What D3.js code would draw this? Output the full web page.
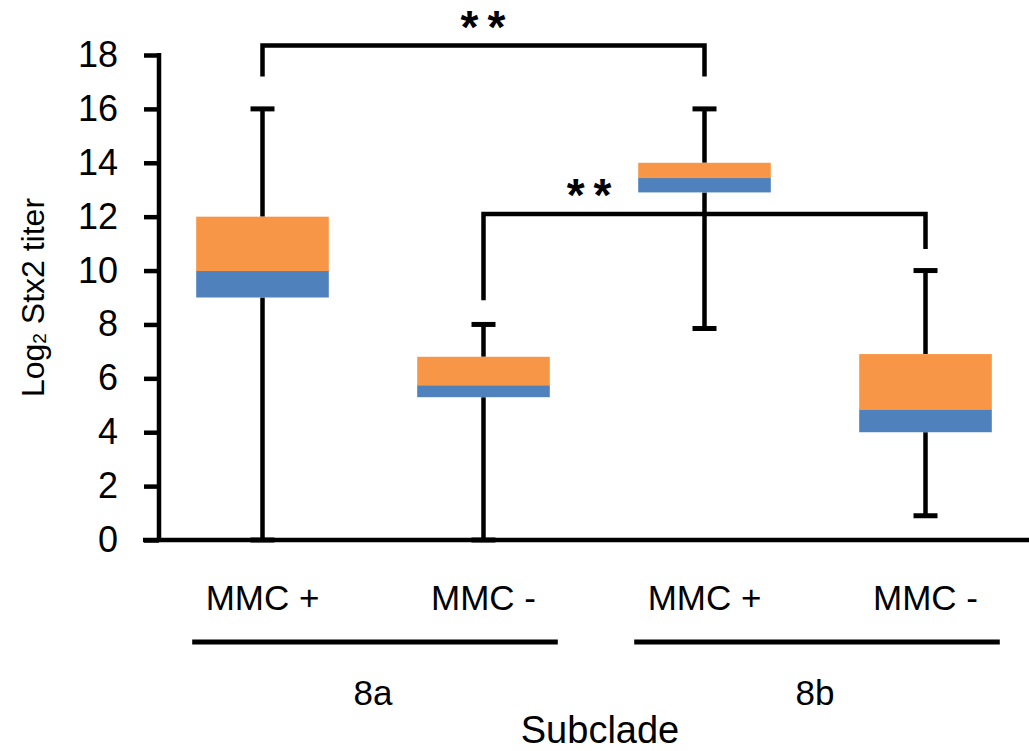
<!DOCTYPE html>
<html>
<head>
<meta charset="utf-8">
<script src="https://cdn.jsdelivr.net/npm/d3@7"></script>
<style>
  body { margin: 0; background: #fff; }
  svg text { font-family: "Liberation Sans", Arial, sans-serif; fill: #000; }
</style>
</head>
<body>
<svg id="chart" width="1029" height="751"></svg>
<script>
const categories = ['MMC +', 'MMC -', 'MMC +', 'MMC -'];
const groups = ['8a', '8a', '8b', '8b'];
const subclades = ['8a', '8b'];
const whiskerLow = [0, 0, 7.85, 0.9];
const boxLow = [9, 5.3, 12.9, 4.0];
const medians = [10, 5.75, 13.45, 4.85];
const boxHigh = [12, 6.8, 14, 6.9];
const whiskerHigh = [16, 8, 16, 10];
const yTicks = [0, 2, 4, 6, 8, 10, 12, 14, 16, 18];

// significance brackets
const bracketFrom = [0, 1];
const bracketTo = [2, 3];
const bracketTop = [18.35, 12.1];
const bracketFromEnd = [17.2, 8.9];
const bracketToEnd = [17.2, 10.8];
const bracketLabels = ['**', '**'];
const bracketLabelAt = [0.5, 0.24];

const blue = '#4F81BD';
const orange = '#F79646';
const axisX = 159;
const capW = 24;

let svg = d3.select('#chart');

let x = d3.scaleBand()
  .domain(d3.range(categories.length))
  .range([152, 1036])
  .paddingInner(0.4)
  .paddingOuter(0.2);

let y = d3.scaleLinear().domain([0, 18]).range([540, 55]);

let cx = i => x(i) + x.bandwidth() / 2;

// y axis
let yAxis = svg.append('g')
  .attr('transform', `translate(${axisX},0)`)
  .call(d3.axisLeft(y).tickValues(yTicks).tickSize(15).tickPadding(26).tickSizeOuter(0));
yAxis.select('.domain').attr('stroke', '#000').attr('stroke-width', 4.5);
yAxis.selectAll('.tick line').attr('stroke', '#000').attr('stroke-width', 4.5);
yAxis.selectAll('.tick text').attr('font-size', 36).attr('font-family', '"Liberation Sans", Arial, sans-serif');
yAxis.select('.domain').attr('d', `M0,${y(0)}V${y(18) - 2}`);

// x axis line
svg.append('line')
  .attr('x1', axisX - 16).attr('x2', 1029)
  .attr('y1', y(0)).attr('y2', y(0))
  .attr('stroke', '#000').attr('stroke-width', 4.5);

// whiskers, drawn outside the box
let idx = d3.range(categories.length);
[[whiskerLow, boxLow], [boxHigh, whiskerHigh]].forEach(([from, to]) => {
  svg.selectAll(null)
    .data(idx)
    .enter()
    .append('line')
      .attr('x1', cx).attr('x2', cx)
      .attr('y1', i => y(from[i]))
      .attr('y2', i => y(to[i]))
      .attr('stroke', '#000').attr('stroke-width', 4.5);
});

[whiskerLow, whiskerHigh].forEach(vals => {
  svg.selectAll(null)
    .data(idx)
    .enter()
    .append('line')
      .attr('x1', i => cx(i) - capW / 2)
      .attr('x2', i => cx(i) + capW / 2)
      .attr('y1', i => y(vals[i]))
      .attr('y2', i => y(vals[i]))
      .attr('stroke', '#000').attr('stroke-width', 5);
});

// boxes: lower part blue, upper part orange
svg.selectAll('.box-low')
  .data(idx)
  .enter()
  .append('rect')
    .attr('x', i => x(i))
    .attr('width', x.bandwidth())
    .attr('y', i => y(medians[i]))
    .attr('height', i => y(boxLow[i]) - y(medians[i]))
    .attr('fill', blue);

svg.selectAll('.box-high')
  .data(idx)
  .enter()
  .append('rect')
    .attr('x', i => x(i))
    .attr('width', x.bandwidth())
    .attr('y', i => y(boxHigh[i]))
    .attr('height', i => y(medians[i]) - y(boxHigh[i]) + 0.5)
    .attr('fill', orange);

// brackets
bracketFrom.forEach((from, k) => {
  let x1 = cx(from);
  let x2 = cx(bracketTo[k]);
  svg.append('path')
    .attr('d', `M${x1},${y(bracketFromEnd[k])}V${y(bracketTop[k])}H${x2}V${y(bracketToEnd[k])}`)
    .attr('fill', 'none')
    .attr('stroke', '#000')
    .attr('stroke-width', 4.5);
  svg.append('text')
    .attr('x', x1 + (x2 - x1) * bracketLabelAt[k] + 4)
    .attr('y', y(bracketTop[k]) - 3)
    .attr('text-anchor', 'middle')
    .attr('font-size', 46)
    .attr('font-weight', 'bold')
    .attr('letter-spacing', 9)
    .text(bracketLabels[k]);
});

// category labels
svg.selectAll('.cat')
  .data(idx)
  .enter()
  .append('text')
    .attr('x', cx)
    .attr('y', 610)
    .attr('text-anchor', 'middle')
    .attr('font-size', 35)
    .text(i => categories[i]);

// subclade underlines and labels
subclades.forEach(g => {
  let members = idx.filter(i => groups[i] === g);
  let first = d3.min(members);
  let last = d3.max(members);
  svg.append('line')
    .attr('x1', x(first) - 4)
    .attr('x2', x(last) + x.bandwidth() + 8)
    .attr('y1', 642).attr('y2', 642)
    .attr('stroke', '#000').attr('stroke-width', 5);
  svg.append('text')
    .attr('x', (cx(first) + cx(last)) / 2)
    .attr('y', 705)
    .attr('text-anchor', 'middle')
    .attr('font-size', 35)
    .text(g);
});

svg.append('text')
  .attr('x', 600)
  .attr('y', 743)
  .attr('text-anchor', 'middle')
  .attr('font-size', 38)
  .text('Subclade');

// y axis title
let title = svg.append('text')
  .attr('transform', `translate(44,${(y(0) + y(18)) / 2}) rotate(-90)`)
  .attr('text-anchor', 'middle')
  .attr('font-size', 32);
title.append('tspan').text('Log');
title.append('tspan').attr('font-size', 19).attr('dy', 2).text('2');
title.append('tspan').attr('dy', -2).text(' Stx2 titer');
</script>
</body>
</html>
